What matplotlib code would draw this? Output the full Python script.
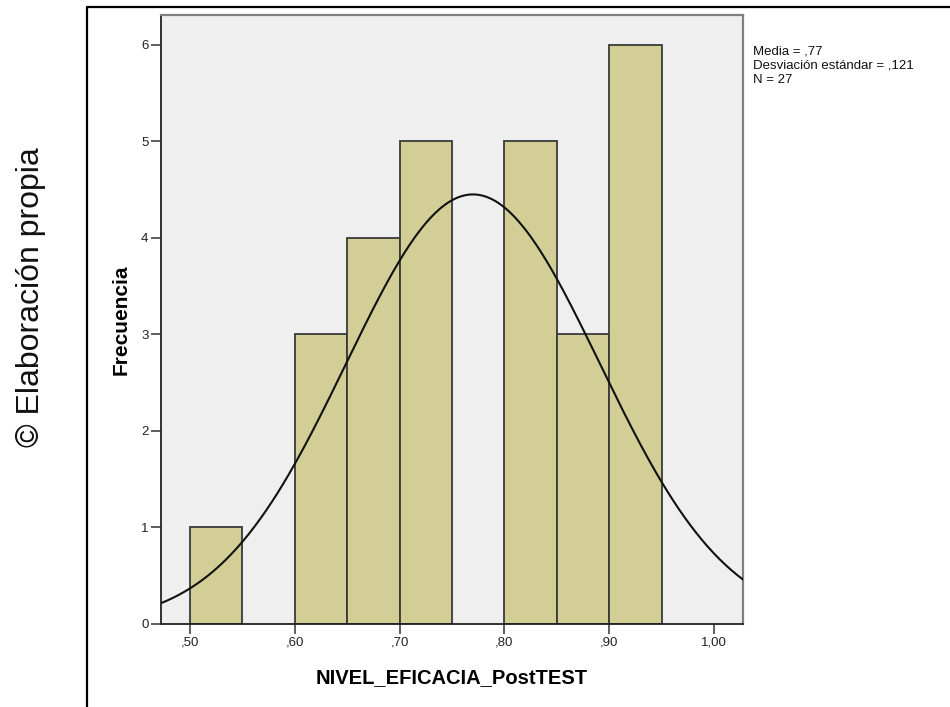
import numpy as np
import matplotlib
matplotlib.use("Agg")
import matplotlib.pyplot as plt
from matplotlib.lines import Line2D

plt.rcParams['font.family'] = ['Liberation Sans', 'DejaVu Sans']

# Data
bin_edges = [0.50, 0.55, 0.60, 0.65, 0.70, 0.75, 0.80, 0.85, 0.90, 0.95]
counts = [1, 0, 3, 4, 5, 0, 5, 3, 6]
mean_val = 0.77
sd_val = 0.121
n_val = 27
x_ticks = [0.50, 0.60, 0.70, 0.80, 0.90, 1.00]
x_tick_labels = [",50", ",60", ",70", ",80", ",90", "1,00"]
y_ticks = [0, 1, 2, 3, 4, 5, 6]
stats_text = "Media = ,77\nDesviación estándar = ,121\nN = 27"

W, H = 950, 707
fig = plt.figure(figsize=(W / 100, H / 100), dpi=100)
fig.patch.set_facecolor('white')

ax = fig.add_axes([161 / W, 1 - 624 / H, (743 - 161) / W, (624 - 15) / H])
ax.set_facecolor('#efefef')

lefts = np.array(bin_edges[:-1])
widths = np.diff(bin_edges)
for l, w, c in zip(lefts, widths, counts):
    if c > 0:
        ax.bar(l, c, width=w, align='edge', color='#d2ce96',
               edgecolor='#3a3a3a', linewidth=1.3, zorder=2)

xmin, xmax = 0.4723, 1.0277
xs = np.linspace(xmin, xmax, 400)
binw = bin_edges[1] - bin_edges[0]
ys = n_val * binw * np.exp(-0.5 * ((xs - mean_val) / sd_val) ** 2) / (sd_val * np.sqrt(2 * np.pi))
ax.plot(xs, ys, color='#111111', linewidth=1.5, zorder=3)

ax.set_xlim(xmin, xmax)
ax.set_ylim(0, 6.31)
ax.set_xticks(x_ticks)
ax.set_xticklabels(x_tick_labels)
ax.set_yticks(y_ticks)
ax.set_yticklabels([str(v) for v in y_ticks])
ax.tick_params(axis='both', direction='out', length=7, width=1.1,
               color='#333333', labelsize=9.5, labelcolor='#222222', pad=2)

for side in ['left', 'bottom']:
    ax.spines[side].set_color('#222222')
    ax.spines[side].set_linewidth(1.3)
for side in ['top', 'right']:
    ax.spines[side].set_color('#808080')
    ax.spines[side].set_linewidth(1.6)

ax.set_xlabel("NIVEL_EFICACIA_PostTEST", fontsize=14.5, fontweight='bold', labelpad=14)
ax.set_ylabel("Frecuencia", fontsize=15, fontweight='bold', labelpad=8)
ax.yaxis.set_label_coords(-0.052, 0.5)

fig.text(753 / W, 1 - 46 / H, stats_text, fontsize=9.5, va='top', ha='left',
         linespacing=1.2, color='#111111')

fig.text(31 / W, 1 - 297 / H, "© Elaboración propia", fontsize=23,
         rotation=90, va='center', ha='center', color='#111111')

fig.add_artist(Line2D([87 / W, 87 / W, 1.0], [0.0, 1 - 7 / H, 1 - 7 / H],
                      transform=fig.transFigure, color='black', linewidth=1.6))

fig.savefig("out.png", dpi=100)
